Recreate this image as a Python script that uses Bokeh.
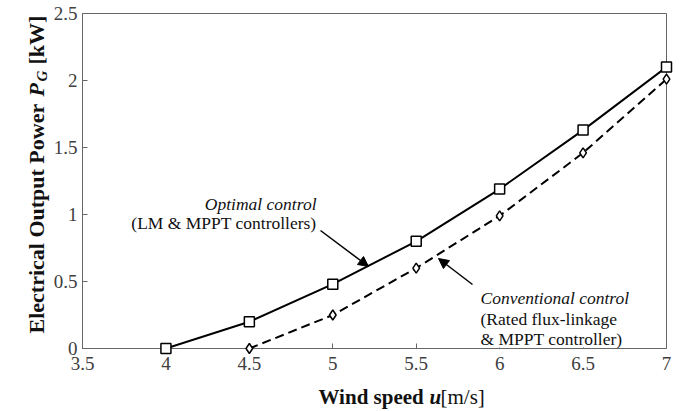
import math
from bokeh.plotting import figure
from bokeh.models import Range1d, FixedTicker, Label, Arrow, NormalHead, BoxAnnotation
from bokeh.core.properties import value
from bokeh.embed import file_html
from bokeh.resources import INLINE

# ---- data ----
wind_opt = [4.0, 4.5, 5.0, 5.5, 6.0, 6.5, 7.0]
power_opt = [0.0, 0.20, 0.48, 0.80, 1.19, 1.63, 2.10]
wind_conv = [4.5, 5.0, 5.5, 6.0, 6.5, 7.0]
power_conv = [0.0, 0.25, 0.60, 0.99, 1.46, 2.01]
x_ticks = [3.5, 4.0, 4.5, 5.0, 5.5, 6.0, 6.5, 7.0]
x_tick_labels = ["3.5", "4", "4.5", "5", "5.5", "6", "6.5", "7"]
y_ticks = [0.0, 0.5, 1.0, 1.5, 2.0, 2.5]
y_tick_labels = ["0", "0.5", "1", "1.5", "2", "2.5"]

W, H = 684, 411
FL, FR, FT, FB = 82, 666, 13, 348
X0, X1, Y0, Y1 = 3.5, 7.0, 0.0, 2.5

def dx(sx):
    return X0 + (sx - FL) * (X1 - X0) / (FR - FL)

def dy(sy):
    return Y0 + (FB - sy) * (Y1 - Y0) / (FB - FT)

SERIF = "Liberation Serif"
AX = "#666666"

p = figure(width=W, height=H, output_backend="svg", toolbar_location=None,
           x_range=Range1d(X0, X1), y_range=Range1d(Y0, Y1),
           min_border_left=FL, min_border_right=W - FR,
           min_border_top=FT, min_border_bottom=H - FB)
p.grid.visible = False
p.outline_line_color = AX
p.outline_line_width = 1
p.background_fill_color = "white"
p.border_fill_color = "white"

for ax, ticks, labels in ((p.xaxis[0], x_ticks, x_tick_labels), (p.yaxis[0], y_ticks, y_tick_labels)):
    ax.ticker = FixedTicker(ticks=ticks)
    ax.major_label_overrides = {t: l for t, l in zip(ticks, labels)}
    ax.axis_line_color = AX
    ax.major_tick_line_color = AX
    ax.major_tick_in = 5
    ax.major_tick_out = 0
    ax.minor_tick_line_color = None
    ax.major_label_text_font = SERIF
    ax.major_label_text_font_size = "19px"
    ax.major_label_text_color = "#404040"
p.xaxis.major_label_standoff = 8
p.yaxis.major_label_standoff = 5

# ---- series ----
p.line(wind_opt, power_opt, line_color="black", line_width=2)
p.scatter(wind_opt, power_opt, marker="square", size=10, fill_color="white",
          line_color="black", line_width=1.5, level="overlay")
p.line(wind_conv, power_conv, line_color="black", line_width=2, line_dash="9 5")
p.scatter(wind_conv, power_conv, marker="diamond", size=10, fill_color="white",
          line_color="black", line_width=1.5, level="overlay")

def lab(text, sx, sy, size, style="normal", align="left"):
    p.add_layout(Label(x=dx(sx), y=dy(sy), text=text, text_font=SERIF,
                       text_font_size=size, text_font_style=style, text_align=align,
                       text_baseline="alphabetic", text_color="#111111"))

def outer_text(text, sx, sy, size, style, angle=0.0):
    p.text(x=[dx(sx)], y=[dy(sy)], text=[text], text_font=value(SERIF),
           text_font_size=value(size), text_font_style=value(style),
           text_align="left", text_baseline="alphabetic", angle=angle,
           text_color="#111111", level="overlay")

# white box behind the conventional-control note (hides ticks underneath)
p.add_layout(BoxAnnotation(left=dx(476), right=dx(632), top=dy(282), bottom=dy(347),
                           fill_color="white", fill_alpha=1.0, line_color=None))

# annotations
lab("Optimal control", 316, 203, "17.5px", "italic", "right")
lab("(LM & MPPT controllers)", 316, 222, "17.5px", "normal", "right")
lab("Conventional control", 480, 297, "17.5px", "italic")
lab("(Rated flux-linkage", 480, 318, "17.5px", "normal")
lab("& MPPT controller)", 480, 338, "17.5px", "normal")

p.add_layout(Arrow(end=NormalHead(size=10, fill_color="black", line_color="black"),
                   x_start=dx(320), y_start=dy(230), x_end=dx(368), y_end=dy(266),
                   line_width=1.5, line_color="black"))
p.add_layout(Arrow(end=NormalHead(size=10, fill_color="black", line_color="black"),
                   x_start=dx(472), y_start=dy(284), x_end=dx(438), y_end=dy(258),
                   line_width=1.5, line_color="black"))

# axis titles (drawn as unclipped text glyphs outside the frame)
outer_text("Wind speed", 318, 396, "21px", "bold")
outer_text("u", 429, 396, "21px", "bold italic")
outer_text("[m/s]", 440, 396, "21px", "normal")

a = math.pi / 2
outer_text("Electrical Output Power", 36, 333, "22px", "bold", a)
outer_text("P", 36, 96, "22px", "bold italic", a)
outer_text("G", 41, 81, "15px", "bold italic", a)
outer_text("[kW]", 36, 64, "22px", "bold", a)

open("out.html", "w").write(file_html(p, INLINE))
